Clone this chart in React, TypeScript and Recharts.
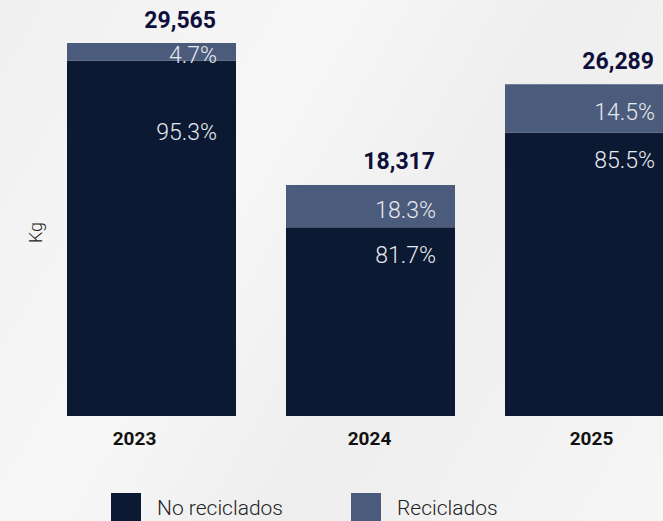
import { BarChart, Bar, XAxis, YAxis, LabelList } from 'recharts';

const years = ['2023', '2024', '2025'];
const totals = [29565, 18317, 26289];
const noRecicladosPct = [95.3, 81.7, 85.5];
const recicladosPct = [4.7, 18.3, 14.5];

const DARK = '#0b1932';
const LIGHT = '#4b5b7b';
const FONT = 'Roboto, "Noto Sans", sans-serif';

const data = years.map((year, i) => ({
  year,
  noReciclados: (totals[i] * noRecicladosPct[i]) / 100,
  reciclados: (totals[i] * recicladosPct[i]) / 100,
}));

const fmt = (n: number) => n.toLocaleString('en-US');

// bottom label sits a bit lower on the first bar (thin top segment)
const bottomLabelDrop = [72, 28, 28];
const tickShift = [-17, -1, 2];

function PctBottom(props: any) {
  const { x, y, width, index } = props;
  return (
    <text
      x={x + width - 19}
      y={y + bottomLabelDrop[index]}
      textAnchor="end"
      dominantBaseline="central"
      fill="#e6e9ef"
      fontFamily={FONT}
      fontWeight={300}
      fontSize={23}
    >
      {noRecicladosPct[index].toFixed(1)}%
    </text>
  );
}

function PctTop(props: any) {
  const { x, y, width, height, index } = props;
  return (
    <g>
      <text
        x={x + width - 19}
        y={y + height / 2 + 4}
        textAnchor="end"
        dominantBaseline="central"
        fill="#e6e9ef"
        fontFamily={FONT}
        fontWeight={300}
        fontSize={23}
      >
        {recicladosPct[index].toFixed(1)}%
      </text>
      <text
        x={x + width - 20}
        y={y - 23}
        textAnchor="end"
        dominantBaseline="central"
        fill="#0f0f3b"
        fontFamily={FONT}
        fontWeight={700}
        fontSize={23}
      >
        {fmt(totals[index])}
      </text>
    </g>
  );
}

function YearTick(props: any) {
  const { x, y, payload, index } = props;
  return (
    <text
      x={x + tickShift[index]}
      y={y + 22}
      textAnchor="middle"
      dominantBaseline="central"
      fill="#111111"
      fontFamily={FONT}
      fontWeight={700}
      fontSize={19}
    >
      {payload.value}
    </text>
  );
}

function KgLabel(props: any) {
  const { viewBox } = props;
  const cx = 35;
  const cy = viewBox.y + viewBox.height / 2 + 3;
  return (
    <text
      x={cx}
      y={cy}
      transform={`rotate(-90 ${cx} ${cy})`}
      textAnchor="middle"
      dominantBaseline="central"
      fill="#222222"
      fontFamily={FONT}
      fontWeight={300}
      fontSize={18}
    >
      Kg
    </text>
  );
}

function LegendItem({ color, label, left }: { color: string; label: string; left: number }) {
  return (
    <div style={{ position: 'absolute', left, top: 493, display: 'flex', alignItems: 'flex-start' }}>
      <div style={{ width: 30, height: 30, background: color }} />
      <span
        style={{
          marginLeft: 16,
          fontFamily: FONT,
          fontWeight: 300,
          fontSize: 21,
          color: '#222222',
          lineHeight: '30px',
        }}
      >
        {label}
      </span>
    </div>
  );
}

export default function App() {
  return (
    <div
      style={{
        position: 'absolute',
        left: 0,
        top: 0,
        width: 663,
        height: 521,
        overflow: 'hidden',
        background: 'linear-gradient(120deg, #f0f0f0 0%, #f7f7f7 35%, #eeeeee 60%, #f6f6f6 100%)',
      }}
    >
      <BarChart width={720} height={521} data={data} margin={{ top: 43, right: 21, left: 0, bottom: 0 }}>
        <XAxis
          dataKey="year"
          height={105}
          axisLine={false}
          tickLine={false}
          tickSize={0}
          tickMargin={0}
          tick={<YearTick />}
          interval={0}
        />
        <YAxis
          width={42}
          domain={[0, 'dataMax']}
          tick={false}
          axisLine={false}
          tickLine={false}
          label={<KgLabel />}
        />
        <Bar dataKey="noReciclados" stackId="a" fill={DARK} barSize={169} isAnimationActive={false}>
          <LabelList dataKey="noReciclados" content={<PctBottom />} />
        </Bar>
        <Bar dataKey="reciclados" stackId="a" fill={LIGHT} barSize={169} isAnimationActive={false}>
          <LabelList dataKey="reciclados" content={<PctTop />} />
        </Bar>
      </BarChart>
      <LegendItem color={DARK} label="No reciclados" left={111} />
      <LegendItem color={LIGHT} label="Reciclados" left={351} />
    </div>
  );
}
